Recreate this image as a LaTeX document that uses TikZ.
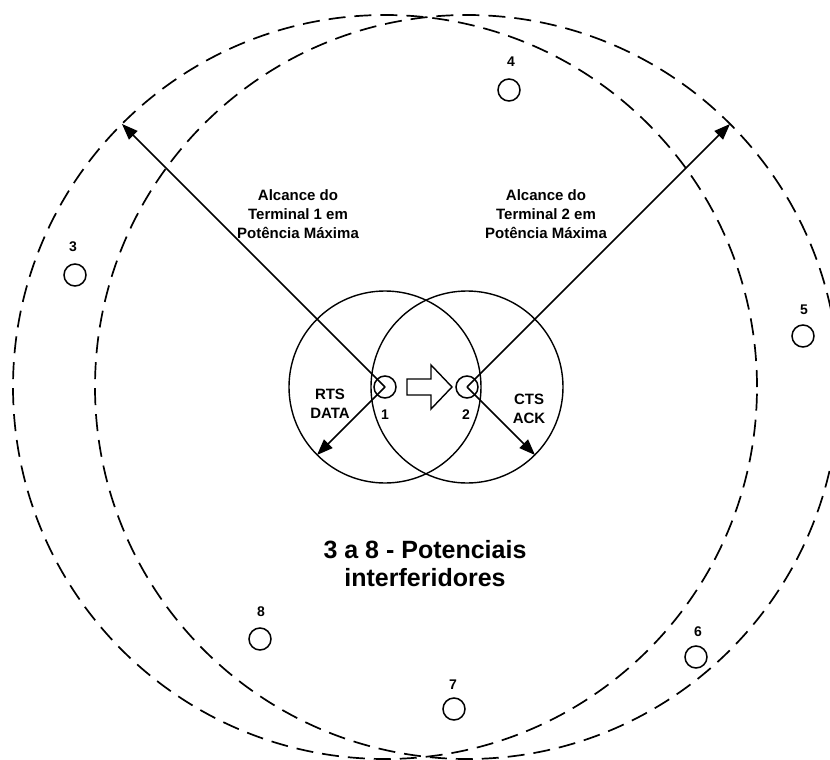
\documentclass[tikz,border=0pt]{standalone}
\usepackage{fontspec}
\setmainfont{Liberation Sans}
\usetikzlibrary{arrows.meta}
\begin{document}
\begin{tikzpicture}[x=1pt,y=-1pt,
  term/.style={draw, circle, line width=1.5pt, minimum size=22pt, inner sep=0pt},
  zone/.style={draw, line width=1.4pt},
  rangecirc/.style={draw, line width=1.7pt, dash pattern=on 17pt off 9pt},
  ray/.style={draw, line width=1.5pt, -{Triangle[length=16pt,width=12pt]}},
  lbl/.style={font=\fontsize{15}{19}\selectfont\bfseries, align=center, inner sep=0pt},
  num/.style={font=\fontsize{14}{16}\selectfont\bfseries, inner sep=0pt},
  big/.style={font=\fontsize{25}{28}\selectfont\bfseries, align=center, inner sep=0pt},
  blockarrow/.style={draw, line width=1.4pt, fill=white, line join=miter}]
\useasboundingbox (0,0) rectangle (830,760);
\clip (0,0) rectangle (830,760);

% terminals 1 and 2
\node[term] (t1) at (385,387) {};
\node[term] (t2) at (467,387) {};

% ranges
\draw[zone] (t1.center) circle[radius=96pt];
\draw[zone] (t2.center) circle[radius=96pt];
\draw[rangecirc] (t1.center) circle[radius=372pt];
\draw[rangecirc] (t2.center) circle[radius=372pt];

% arrow endpoints
\coordinate (farA) at (122,124);
\coordinate (farB) at (730,124);
\coordinate (nearA) at (317,455);
\coordinate (nearB) at (535,455);

\draw[ray] (t1.center) -- (farA);
\draw[ray] (t2.center) -- (farB);
\draw[ray] (t1.center) -- (nearA);
\draw[ray] (t2.center) -- (nearB);

% block arrow
\draw[blockarrow] (407,379) -- (431,379) -- (431,365) -- (452,387) -- (431,409) -- (431,395) -- (407,395) -- cycle;

% labels
\node[num] (l1) at (385,415) {1};
\node[num] (l2) at (466,415) {2};
\node[lbl] (rts) at (330,404) {RTS\\DATA};
\node[lbl] (cts) at (529,409) {CTS\\ACK};
\node[lbl] (alc1) at (298,214) {Alcance do\\Terminal 1 em\\Potência Máxima};
\node[lbl] (alc2) at (546,214) {Alcance do\\Terminal 2 em\\Potência Máxima};
\node[big] (title) at (425,564) {3 a 8 - Potenciais\\interferidores};

% potential interferers
\node[term] (n3) at (75,275) {};
\node[num] (l3) at (73,247) {3};
\node[term] (n4) at (509,90) {};
\node[num] (l4) at (511,62) {4};
\node[term] (n5) at (803,336) {};
\node[num] (l5) at (804,310) {5};
\node[term] (n6) at (696,657) {};
\node[num] (l6) at (698,632) {6};
\node[term] (n7) at (454,709) {};
\node[num] (l7) at (453,685) {7};
\node[term] (n8) at (260,639) {};
\node[num] (l8) at (261,612) {8};
\end{tikzpicture}
\end{document}
